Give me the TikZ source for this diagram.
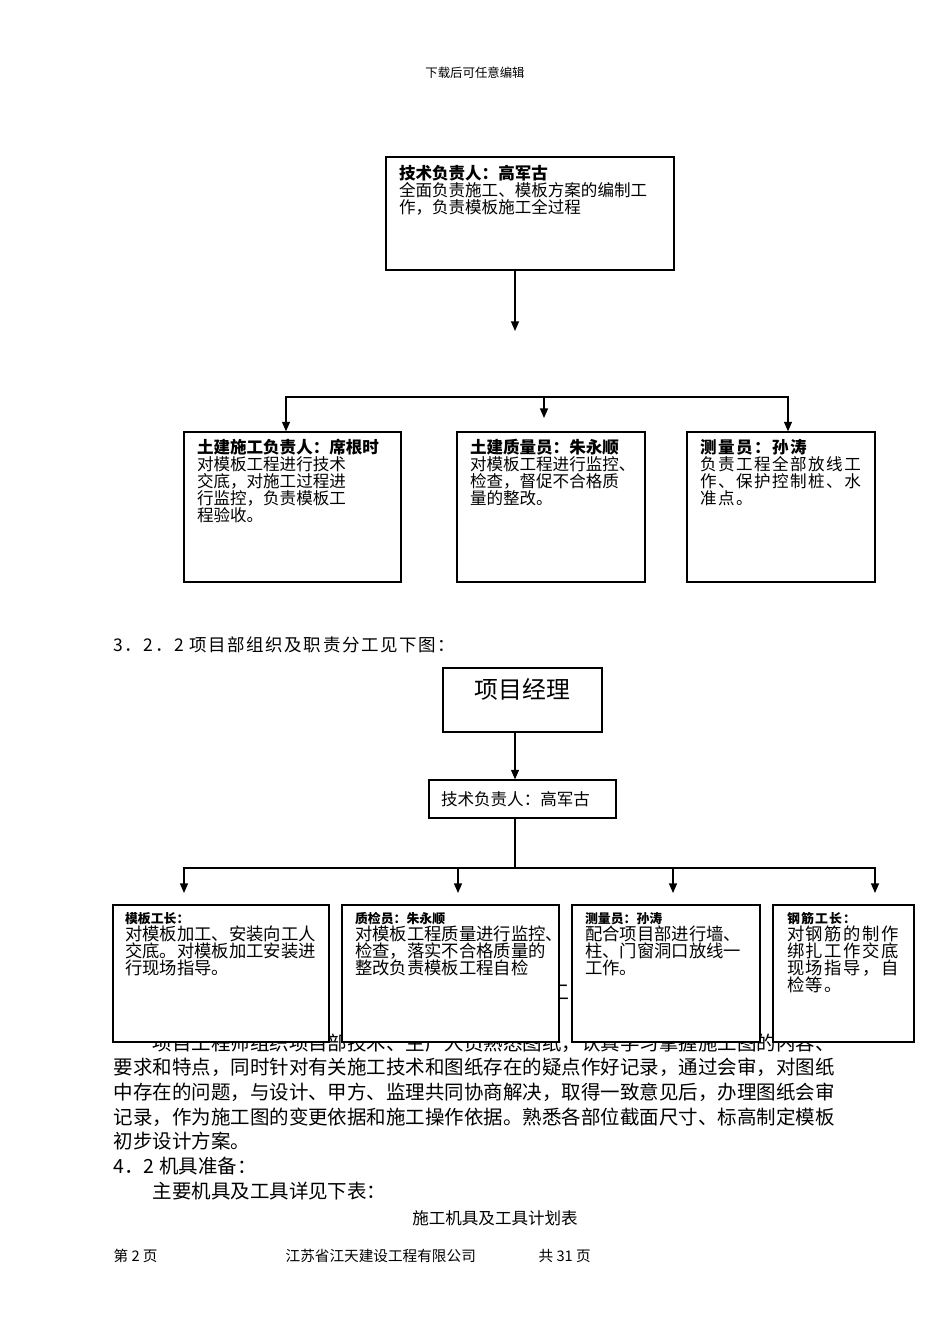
\documentclass[tikz,border=0pt]{standalone}
\usepackage{fontspec}
\setmainfont{Noto Sans CJK SC}
\newfontfamily\widecjk[LetterSpace=9]{Noto Sans CJK SC}
\usetikzlibrary{fit,arrows.meta}
\newcommand\boxtitle[1]{{\fontsize{8.1}{10.7}\selectfont\bfseries #1}}

\begin{document}
\begin{tikzpicture}[x=0.0221cm, y=-0.0221cm,
  box/.style={draw, fill=white, line width=0.8pt, inner sep=0pt},
  txt/.style={anchor=north west, align=left, inner sep=0pt, font=\fontsize{10.4}{10.7}\selectfont},
  widetxt/.style={txt, font=\fontsize{10.4}{10.7}\selectfont\widecjk},
  rowtxt/.style={txt, font=\fontsize{10.9}{10.7}\selectfont},
  plain/.style={inner sep=0pt, font=\fontsize{10.4}{12}\selectfont},
  >={Triangle[length=6pt, width=5pt]}, line width=0.8pt]
  \useasboundingbox[fill=white] (0,0) rectangle (950,1344);
  \node[plain, font=\fontsize{7.8}{9}\selectfont] (hdr) at (475,73) {下载后可任意编辑};

  % upper chart
  \node[box, fit={(386,157) (674,270)}] (tech) {};
  \node[txt] (techtxt) at ([shift={(13,8)}]tech.north west) {\textbf{技术负责人：高军古}\\全面负责施工、模板方案的编制工\\作，负责模板施工全过程};
  \coordinate (techend) at (515,331);
  \draw[->] (techend |- tech.south) -- (techend);

  \node[box, fit={(184,432) (401,582)}] (civil) {};
  \node[box, fit={(457,432) (645,582)}] (quality) {};
  \node[box, fit={(687,432) (875,582)}] (survey) {};
  \node[txt] (civiltxt) at ([shift={(13,7)}]civil.north west) {\textbf{土建施工负责人：席根时}\\对模板工程进行技术\\交底，对施工过程进\\行监控，负责模板工\\程验收。};
  \node[txt] (qualitytxt) at ([shift={(13,7)}]quality.north west) {\textbf{土建质量员：朱永顺}\\对模板工程进行监控、\\检查，督促不合格质\\量的整改。};
  \node[widetxt] (surveytxt) at ([shift={(13,7)}]survey.north west) {\textbf{测量员：孙涛}\\负责工程全部放线工\\作、保护控制桩、水\\准点。};
  \coordinate (d1) at (286,397);
  \coordinate (d2) at (544,397);
  \coordinate (d3) at (788,397);
  \coordinate (d2end) at (544,418);
  \draw[<->] (d1 |- civil.north) -- (d1) -- (d3) -- (d3 |- survey.north);
  \draw[->] (d2) -- (d2end);

  \node[plain, anchor=west, font=\fontsize{11}{12}\selectfont\widecjk] (sec) at (113,645) {3．2．2 项目部组织及职责分工见下图：};

  % lower chart
  \node[box, fit={(443,668) (602,732)}] (pm) {};
  \node[plain, anchor=north, font=\fontsize{15}{15}\selectfont] (pmtxt) at ([shift={(0,10)}]pm.north) {项目经理};
  \node[box, fit={(429,780) (616,818)}] (lead) {};
  \node[plain] (leadtxt) at ([shift={(-7,0)}]lead.center) {技术负责人：高军古};
  \coordinate (bus) at (515,868);
  \draw[->] (bus |- pm.south) -- (bus |- lead.north);
  \draw (bus |- lead.south) -- (bus);

  % text behind the boxes
  \node[txt, font=\fontsize{12.25}{15.5}\selectfont] (para) at (113,1033) {\hspace*{2em}项目工程师组织项目部技术、生产人员熟悉图纸，认真学习掌握施工图的内容、\\要求和特点，同时针对有关施工技术和图纸存在的疑点作好记录，通过会审，对图纸\\中存在的问题，与设计、甲方、监理共同协商解决，取得一致意见后，办理图纸会审\\记录，作为施工图的变更依据和施工操作依据。熟悉各部位截面尺寸、标高制定模板\\初步设计方案。\\4．2 机具准备：\\\hspace*{2em}主要机具及工具详见下表：};
  \node[plain, font=\fontsize{12.5}{12.5}\selectfont] (hid) at (559,992) {工};

  \node[box, fit={(113,905) (329,1042)}] (form) {};
  \node[box, fit={(342,905) (559,1042)}] (check) {};
  \node[box, fit={(572,905) (760,1042)}] (measure) {};
  \node[box, fit={(773,905) (914,1042)}] (rebar) {};
  \node[rowtxt] (formtxt) at ([shift={(12,7)}]form.north west) {\boxtitle{模板工长：}\\对模板加工、安装向工人\\交底。对模板加工安装进\\行现场指导。};
  \node[rowtxt] (checktxt) at ([shift={(13,7)}]check.north west) {\boxtitle{质检员：朱永顺}\\对模板工程质量进行监控、\\检查，落实不合格质量的\\整改负责模板工程自检};
  \node[rowtxt] (measuretxt) at ([shift={(13,7)}]measure.north west) {\boxtitle{测量员：孙涛}\\配合项目部进行墙、\\柱、门窗洞口放线一\\工作。};
  \node[rowtxt, font=\fontsize{10.9}{10.7}\selectfont\widecjk] (rebartxt) at ([shift={(14,7)}]rebar.north west) {\boxtitle{钢筋工长：}\\对钢筋的制作\\绑扎工作交底\\现场指导，自\\检等。};
  \coordinate (e1) at (184,868);
  \coordinate (e2) at (458,868);
  \coordinate (e3) at (673,868);
  \coordinate (e4) at (875,868);
  \coordinate (tips) at (0,893);
  \draw[<->] (e1 |- tips) -- (e1) -- (e4) -- (e4 |- tips);
  \draw[->] (e2) -- (e2 |- tips);
  \draw[->] (e3) -- (e3 |- tips);

  \node[plain] (tabttl) at (495,1218) {施工机具及工具计划表};
  \node[plain, anchor=west, font=\fontsize{9.2}{10}\selectfont] (pg) at (113,1256) {第 2 页};
  \node[plain, anchor=west, font=\fontsize{9.2}{10}\selectfont] (corp) at (285,1256) {江苏省江天建设工程有限公司};
  \node[plain, anchor=west, font=\fontsize{9.2}{10}\selectfont] (tot) at (538,1256) {共 31 页};
\end{tikzpicture}
\end{document}
